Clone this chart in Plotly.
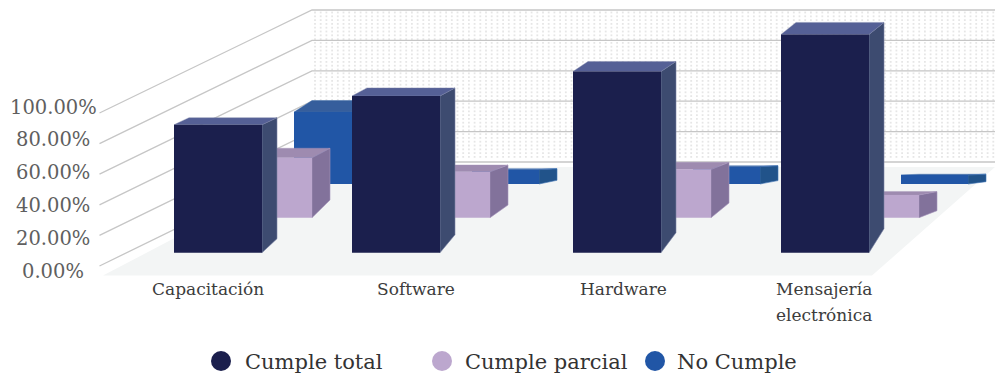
import numpy as np
import plotly.graph_objects as go

# Survey results per area, in percent
categories = ["Capacitación", "Software", "Hardware", "Mensajería<br>electrónica"]
cumple_total = [52.9, 64.8, 74.9, 90.2]
cumple_parcial = [28.2, 21.6, 22.7, 10.7]
no_cumple = [39.1, 7.8, 9.4, 4.9]
value_ticks = [0, 20, 40, 60, 80, 100]
value_tick_labels = ["0.00%", "20.00%", "40.00%", "60.00%", "80.00%", "100.00%"]

W, H = 995, 375
SERIF = "DejaVu Serif"

# Right edge of each category's front bar on the canvas
CATEGORY_RIGHT = [262, 440, 661, 869]

# One entry per depth row of the oblique 3D view, nearest first
ROWS = [
    dict(name="Cumple total", values=cumple_total, base=252.7, scale=2.42, width=88, shift=0, dx=15,
         rise_base=[14, 18, 20, 24], rise_top=[7, 8, 10, 12],
         front="#1B1F4D", top="#556096", side="#3D4B70", edge="#7C84A6"),
    dict(name="Cumple parcial", values=cumple_parcial, base=217.7, scale=2.13, width=78, shift=50, dx=18,
         rise_base=[17.7, 12.7, 14.7, 7], rise_top=[9.4, 6.7, 7, 3.3],
         front="#BCA7CE", top="#9E8BB0", side="#82729B", edge="#A696BC"),
    dict(name="No Cumple", values=no_cumple, base=184, scale=1.84, width=67, shift=99, dx=18,
         rise_base=[12, 3.7, 3.4, 2.3], rise_top=[11.5, 1, 1, 0.8],
         front="#2156A6", top="#365E9C", side="#21538A", edge="#3E72B4"),
]

# Back wall and side wall of the box
WALL_LEFT, WALL_RIGHT = 312, 995
WALL_ZERO, WALL_STEP = 162, 30.4
SIDE_X, SIDE_ZERO, SIDE_STEP = 99.5, 266, 30.6

fig = go.Figure()


def polygon(xs, ys, fill, line=None, width=0):
    fig.add_trace(go.Scatter(
        x=list(xs) + [xs[0]], y=list(ys) + [ys[0]], mode="lines", fill="toself", fillcolor=fill,
        line=dict(color=line or fill, width=width if line else 0),
        hoverinfo="skip", showlegend=False,
    ))


# Dotted texture on the back wall
dot_x, dot_y = np.meshgrid(np.arange(WALL_LEFT + 3, WALL_RIGHT, 5.7), np.arange(12.5, 160, 3.8))
fig.add_trace(go.Scatter(
    x=dot_x.ravel(), y=dot_y.ravel(), mode="markers",
    marker=dict(symbol="square", size=1.8, color="#e6e6e6", line=dict(width=0)),
    hoverinfo="skip", showlegend=False,
))

# Gridlines running along the side wall and across the back wall
for i, tick in enumerate(value_ticks):
    wall_y = WALL_ZERO - tick / 20 * WALL_STEP
    side_y = SIDE_ZERO - tick / 20 * SIDE_STEP
    fig.add_trace(go.Scatter(
        x=[SIDE_X, WALL_LEFT, WALL_RIGHT], y=[side_y, wall_y, wall_y], mode="lines",
        line=dict(color="#c6c6c6", width=1.3), hoverinfo="skip", showlegend=False,
    ))

# Floor of the box
polygon([103, 872, 995, 995, 310], [275.6, 275.6, 167, 167, 167], "#F3F5F5")


def draw_bar(row, i):
    right = CATEGORY_RIGHT[i] + row["shift"]
    left = right - row["width"]
    y0 = row["base"]
    y1 = y0 - row["values"][i] * row["scale"]
    dx = row["dx"]
    rise_b, rise_t = row["rise_base"][i], row["rise_top"][i]
    polygon([right, right + dx, right + dx, right], [y0, y0 - rise_b, y1 - rise_t, y1],
            row["side"], row["edge"], 0.6)
    polygon([left, right, right + dx, left + dx], [y1, y1, y1 - rise_t, y1 - rise_t],
            row["top"], row["edge"], 0.4)
    polygon([left, right, right, left], [y0, y0, y1, y1], row["front"])


# Painted from the back row forward so nearer bars cover farther ones
for row in reversed(ROWS):
    for i in range(len(categories)):
        draw_bar(row, i)

annotations = []

# Value labels beside the side wall
for i, label in enumerate(value_tick_labels):
    annotations.append(dict(
        x=53, y=271 - i * 32.8, text=label, showarrow=False, xanchor="center", yanchor="middle",
        font=dict(family=SERIF, size=19.5, color="#5F5F5F"),
    ))

# Category labels under the floor, one annotation per text line for the wider leading
for x, label in zip([207.5, 416, 623, 823.5], categories):
    for line_no, line in enumerate(label.split("<br>")):
        annotations.append(dict(
            x=x, y=288.5 + line_no * 26, text=line, showarrow=False, xanchor="center", yanchor="middle",
            font=dict(family=SERIF, size=17, color="#3C3C3C"),
        ))

# Legend row
for row, dot_at, text_at in zip(ROWS, [221, 442, 655], [243, 463, 675]):
    fig.add_trace(go.Scatter(
        x=[dot_at], y=[361], mode="markers",
        marker=dict(size=20, color=row["front"], line=dict(width=0)),
        hoverinfo="skip", showlegend=False,
    ))
    annotations.append(dict(
        x=text_at, y=362, text=row["name"], showarrow=False, xanchor="left", yanchor="middle",
        font=dict(family=SERIF, size=21, color="#333333"),
    ))

fig.update_layout(
    width=W, height=H, margin=dict(l=0, r=0, t=0, b=0),
    paper_bgcolor="white", plot_bgcolor="white", showlegend=False,
    xaxis=dict(range=[0, W], visible=False, fixedrange=True),
    yaxis=dict(range=[H, 0], visible=False, fixedrange=True),
    annotations=annotations,
)

fig.write_html("out.html", config={"displayModeBar": False})
